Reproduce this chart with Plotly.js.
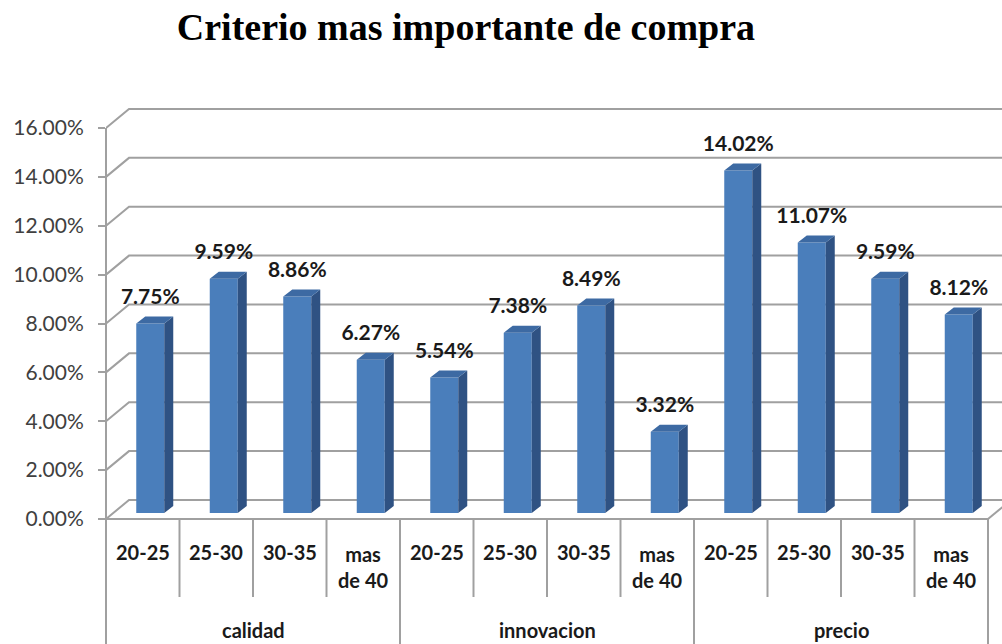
<!DOCTYPE html>
<html>
<head>
<meta charset="utf-8">
<script src="https://cdn.plot.ly/plotly-3.0.1.min.js"></script>
<style>
  body { margin: 0; background: #fff; }
  #myDiv { width: 1002px; height: 644px; }
</style>
</head>
<body>
<div id="myDiv"></div>
<script>
// data
var groups = ['calidad', 'innovacion', 'precio'];
var ages = ['20-25', '25-30', '30-35', 'mas de 40'];
var calidad = [7.75, 9.59, 8.86, 6.27];
var innovacion = [5.54, 7.38, 8.49, 3.32];
var precio = [14.02, 11.07, 9.59, 8.12];
var yTicks = [0, 2, 4, 6, 8, 10, 12, 14, 16];

var values = calidad.concat(innovacion, precio);
var xs = values.map(function (v, i) { return i; });

// pixel scale of the fake 3d box
var PX = 73.5, PY = 24.4375;
var wallDx = 23 / PX, wallDy = 19 / PY;      // back wall offset
var barDx = 7.5 / PX, barBase = 6 / PY;      // bars sit a bit into the depth
var barW = 28 / PX;
var sideDx = 9 / PX, sideDy = 7 / PY;         // bar depth
var xMax = -0.5 + 896 / PX;
function py(px) { return (519 - px) / PY; }

var gridCol = '#a0a0a0';

// front faces
var front = {
  type: 'bar',
  x: xs.map(function (x) { return x + barDx; }),
  y: values,
  base: barBase,
  width: barW,
  marker: { color: '#4a7ebb', line: { width: 0 } },
  hoverinfo: 'skip'
};

// side and top faces
var sx = [], sy = [], tx = [], ty = [];
values.forEach(function (v, i) {
  var xl = i + barDx - barW / 2, xr = i + barDx + barW / 2;
  var top = barBase + v;
  sx.push(xr, xr + sideDx, xr + sideDx, xr, null);
  sy.push(barBase, barBase + sideDy, top + sideDy, top, null);
  tx.push(xl, xl + sideDx, xr + sideDx, xr, null);
  ty.push(top, top + sideDy, top + sideDy, top, null);
});
var side = {
  type: 'scatter', mode: 'lines', x: sx, y: sy, fill: 'toself',
  fillcolor: '#2f5283', line: { width: 0 }, hoverinfo: 'skip'
};
var topFace = {
  type: 'scatter', mode: 'lines', x: tx, y: ty, fill: 'toself',
  fillcolor: '#3d6aa3', line: { width: 0 }, hoverinfo: 'skip'
};

var labels = {
  type: 'scatter', mode: 'text',
  x: xs.map(function (x) { return x + barDx; }),
  y: values.map(function (v) { return v + 1.27; }),
  text: values.map(function (v) { return v.toFixed(2) + '%'; }),
  textfont: { family: 'Lato', size: 21, color: '#1a1a1a', weight: 'bold' },
  cliponaxis: false,
  hoverinfo: 'skip'
};

var shapes = [];
// back wall grid lines
yTicks.forEach(function (t) {
  shapes.push({
    type: 'path', xref: 'x', yref: 'y', layer: 'below',
    path: 'M -0.5,' + t + ' L ' + (-0.5 + wallDx) + ',' + (t + wallDy) + ' L ' + (xMax + 1) + ',' + (t + wallDy),
    line: { color: gridCol, width: 2 }
  });
});
// front value axis line
shapes.push({
  type: 'line', xref: 'paper', yref: 'y', x0: 0, x1: 0, y0: 16, y1: py(644),
  line: { color: gridCol, width: 2 }
});
// floor front edge and right edge
shapes.push({
  type: 'line', xref: 'x', yref: 'y', x0: -0.5, x1: 11.5, y0: 0, y1: 0,
  line: { color: gridCol, width: 2 }
});
shapes.push({
  type: 'line', xref: 'x', yref: 'y', x0: 11.5, x1: 11.5 + wallDx, y0: 0, y1: wallDy,
  line: { color: gridCol, width: 2 }
});
// category separators
for (var k = 0; k < values.length; k++) {
  var edge = (k + 1) % ages.length === 0;
  shapes.push({
    type: 'line', xref: 'x', yref: 'y', x0: k + 0.5, x1: k + 0.5,
    y0: 0, y1: edge ? py(644) : py(597),
    line: { color: gridCol, width: 2 }
  });
}

var annotations = [];
values.forEach(function (v, i) {
  var a = ages[i % ages.length];
  var two = a.indexOf(' de') > 0;
  annotations.push({
    xref: 'x', yref: 'y', x: i, y: two ? py(567) : py(552),
    text: a.replace(' de', '<br>de'), showarrow: false,
    font: { family: 'Lato', size: 20, color: '#1a1a1a', weight: 'bold' }
  });
});
groups.forEach(function (g, j) {
  annotations.push({
    xref: 'x', yref: 'y', x: j * ages.length + (ages.length - 1) / 2, y: py(630),
    text: g, showarrow: false,
    font: { family: 'Lato', size: 20, color: '#1a1a1a', weight: 'bold' }
  });
});

var layout = {
  width: 1002,
  height: 644,
  margin: { l: 106, r: 0, t: 100, b: 0 },
  paper_bgcolor: '#fff',
  plot_bgcolor: 'rgba(0,0,0,0)',
  showlegend: false,
  title: {
    text: '<b>Criterio mas importante de compra</b>',
    font: { family: 'Liberation Serif', size: 38, color: '#000' },
    x: 0.465, xanchor: 'center', y: 0.958, yanchor: 'middle'
  },
  xaxis: {
    range: [-0.5, xMax], showgrid: false, zeroline: false,
    showticklabels: false, ticks: '', fixedrange: true
  },
  yaxis: {
    range: [py(644), py(100)], showgrid: false, zeroline: false,
    tickvals: yTicks,
    ticktext: yTicks.map(function (t) { return t.toFixed(2) + '%'; }),
    ticks: 'outside', ticklen: 7, tickwidth: 2, tickcolor: gridCol,
    ticklabelstandoff: 10,
    tickfont: { family: 'Lato', size: 21, color: '#404040' },
    fixedrange: true
  },
  shapes: shapes,
  annotations: annotations
};

Plotly.newPlot('myDiv', [front, side, topFace, labels], layout, { displayModeBar: false, staticPlot: true });
</script>
</body>
</html>
